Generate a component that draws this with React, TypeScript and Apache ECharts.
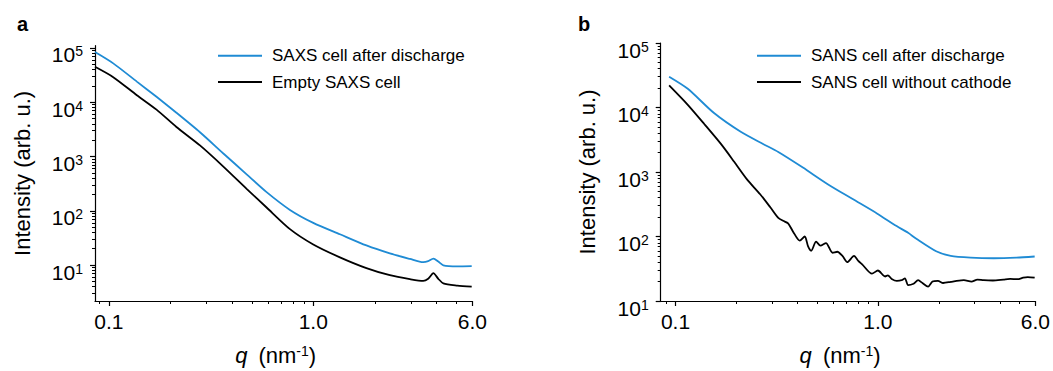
import React, { useEffect, useRef } from 'react';
import * as echarts from 'echarts';

const FONT = '"Liberation Sans", Arial, Helvetica, sans-serif';
const BLUE = '#1f8bd4';
const BLACK = '#000000';

// ---- Panel a (SAXS) ----
const saxsQ = [0.0855, 0.105, 0.137, 0.171, 0.214, 0.279, 0.362, 0.472, 0.591, 0.769, 1.0, 1.35, 1.82, 2.37, 2.97, 3.45, 3.65, 3.87, 4.09, 4.33, 5.07, 5.96];
const saxsDischarge = [84000, 52000, 24000, 12600, 6400, 2800, 1150, 470, 221, 104, 60, 37, 23, 16.4, 13, 11.3, 11.8, 13.2, 11.6, 9.9, 9.5, 9.6];
const saxsEmpty = [45000, 29000, 13500, 7300, 3500, 1600, 660, 254, 115, 46, 24, 13.9, 8.8, 6.5, 5.5, 5.1, 5.6, 7.1, 5.6, 4.6, 4.2, 4.0];

// ---- Panel b (SANS) ----
const sansDischargeQ = [0.093, 0.115, 0.155, 0.21, 0.272, 0.322, 0.426, 0.565, 0.747, 0.989, 1.237, 1.41, 1.549, 1.94, 2.29, 2.87, 3.73, 4.84, 5.95];
const sansDischarge = [30000, 19500, 8200, 4200, 2700, 2040, 1170, 648, 384, 228, 145, 114, 92, 59, 50, 47, 46, 47, 49];
const sansNoCathodeQ = [0.093, 0.115, 0.139, 0.168, 0.195, 0.226, 0.262, 0.294, 0.322, 0.34, 0.36, 0.381, 0.411, 0.435, 0.452, 0.468, 0.495, 0.52, 0.554, 0.597, 0.63, 0.668, 0.706, 0.762, 0.8, 0.836, 0.935, 1.0, 1.085, 1.12, 1.17, 1.24, 1.31, 1.36, 1.41, 1.5, 1.58, 1.66, 1.77, 1.86, 1.98, 2.1, 2.29, 2.45, 2.66, 2.9, 3.1, 3.33, 3.7, 4.17, 4.5, 4.9, 5.22, 5.5, 5.95];
const sansNoCathode = [22000, 11000, 5500, 2700, 1440, 762, 452, 284, 194, 175, 160, 119, 86, 100, 70, 60, 83, 72, 79, 56, 58, 50, 40, 50, 42, 37, 26.5, 29.7, 24, 25, 22, 20.5, 21, 22.5, 17.6, 18.5, 21, 19, 16.7, 20, 20.5, 19, 19.8, 20.5, 21, 20, 21.5, 21, 20.8, 21.5, 22, 21.8, 23, 23.5, 23];

// ---- Axes ----
const xTickValues = [0.1, 1, 6];
const yTickValues = [10, 100, 1000, 10000, 100000];
const legendSaxs = ['SAXS cell after discharge', 'Empty SAXS cell'];
const legendSans = ['SANS cell after discharge', 'SANS cell without cathode'];
const panelLetters = ['a', 'b'];

const xMin = [0.0855, 0.0845];
const xMax = [6, 6];
const yMin = [2.18, 10];
const yMax = [110000, 100000];

function minorValues(min: number, max: number): number[] {
  const out: number[] = [];
  for (let e = -3; e <= 6; e++) {
    for (let m = 2; m <= 9; m++) {
      const v = m * Math.pow(10, e);
      if (v > min * 1.0001 && v < max * 0.9999) out.push(v);
    }
  }
  return out;
}

function xAxisFor(i: number) {
  return {
    type: 'log',
    logBase: 10,
    gridIndex: i,
    position: 'bottom',
    min: xMin[i],
    max: xMax[i],
    axisLine: { show: true, lineStyle: { color: BLACK, width: 1.2 } },
    axisTick: { show: true, customValues: xTickValues, length: 5, inside: false, lineStyle: { color: BLACK, width: 1.2 } },
    axisLabel: {
      customValues: xTickValues,
      formatter: (v: number) => Number(v).toFixed(1),
      fontSize: 21,
      color: BLACK,
      fontFamily: FONT,
      margin: 10,
      hideOverlap: false,
    },
    splitLine: { show: false },
    name: '{i|q} (nm{s|-1})',
    nameLocation: 'middle',
    nameGap: 43,
    nameTextStyle: {
      fontSize: 22,
      color: BLACK,
      fontFamily: FONT,
      padding: [0, 16, 0, 0],
      rich: {
        i: { fontStyle: 'italic', fontSize: 22, color: BLACK, fontFamily: FONT, padding: [0, 5, 0, 0] },
        s: { fontSize: 14, color: BLACK, fontFamily: FONT, verticalAlign: 'top' },
      },
    },
  };
}

function xMinorAxisFor(i: number) {
  return {
    type: 'log',
    logBase: 10,
    gridIndex: i,
    position: 'bottom',
    offset: 0,
    min: xMin[i],
    max: xMax[i],
    axisLine: { show: false },
    axisTick: { show: true, customValues: minorValues(xMin[i], xMax[i]), length: 3, inside: false, lineStyle: { color: BLACK, width: 1 } },
    axisLabel: { show: false },
    splitLine: { show: false },
  };
}

function yAxisFor(i: number) {
  return {
    type: 'log',
    logBase: 10,
    gridIndex: i,
    position: 'left',
    min: yMin[i],
    max: yMax[i],
    axisLine: { show: true, lineStyle: { color: BLACK, width: 1.2 } },
    axisTick: { show: true, customValues: yTickValues, length: 5, inside: false, lineStyle: { color: BLACK, width: 1.2 } },
    axisLabel: {
      customValues: yTickValues,
      formatter: (v: number) => `{b|10}{s|${Math.round(Math.log10(v))}}`,
      margin: 12,
      padding: [14, 0, 0, 0],
      hideOverlap: false,
      rich: {
        b: { fontSize: 21, color: BLACK, fontFamily: FONT },
        s: { fontSize: 14, color: BLACK, fontFamily: FONT, verticalAlign: 'top' },
      },
    },
    splitLine: { show: false },
    name: 'Intensity (arb. u.)',
    nameLocation: 'middle',
    nameGap: 62,
    nameTextStyle: { fontSize: 22, color: BLACK, fontFamily: FONT },
  };
}

function yMinorAxisFor(i: number) {
  return {
    type: 'log',
    logBase: 10,
    gridIndex: i,
    position: 'left',
    offset: 0,
    min: yMin[i],
    max: yMax[i],
    axisLine: { show: false },
    axisTick: { show: true, customValues: minorValues(yMin[i], yMax[i]), length: 3, inside: false, lineStyle: { color: BLACK, width: 1 } },
    axisLabel: { show: false },
    splitLine: { show: false },
  };
}

function lineSeries(name: string, axis: number, q: number[], vals: number[], color: string) {
  return {
    type: 'line',
    name,
    xAxisIndex: axis,
    yAxisIndex: axis,
    data: q.map((x, k) => [x, vals[k]]),
    symbol: 'none',
    showSymbol: false,
    smooth: 0.25,
    lineStyle: { color, width: 1.8 },
    itemStyle: { color },
  };
}

function legendFor(names: string[], left: number) {
  return {
    data: names,
    left,
    top: 42.2,
    orient: 'vertical',
    icon: 'rect',
    itemWidth: 44,
    itemHeight: 2,
    itemGap: 9.3,
    selectedMode: false,
    textStyle: { fontSize: 17, color: BLACK, fontFamily: FONT, padding: [0, 0, 0, 5] },
  };
}

export default function App() {
  const ref = useRef<HTMLDivElement>(null);
  useEffect(() => {
    if (!ref.current) return;
    const chart = echarts.init(ref.current, undefined, { renderer: 'svg' });
    chart.setOption({
      animation: false,
      backgroundColor: '#ffffff',
      grid: [
        { left: 95, top: 45.7, width: 377.3, height: 263.3 },
        { left: 660.7, top: 43, width: 378.3, height: 265 },
      ],
      xAxis: [xAxisFor(0), xAxisFor(1), xMinorAxisFor(0), xMinorAxisFor(1)],
      yAxis: [yAxisFor(0), yAxisFor(1), yMinorAxisFor(0), yMinorAxisFor(1)],
      legend: [legendFor(legendSaxs, 213), legendFor(legendSans, 752)],
      graphic: [
        { type: 'text', x: 17, y: 23.5, style: { text: panelLetters[0], fontSize: 20, fontWeight: 'bold', fontFamily: FONT, fill: BLACK, verticalAlign: 'middle' } },
        { type: 'text', x: 578, y: 23.5, style: { text: panelLetters[1], fontSize: 20, fontWeight: 'bold', fontFamily: FONT, fill: BLACK, verticalAlign: 'middle' } },
      ],
      series: [
        lineSeries(legendSaxs[1], 0, saxsQ, saxsEmpty, BLACK),
        lineSeries(legendSaxs[0], 0, saxsQ, saxsDischarge, BLUE),
        lineSeries(legendSans[1], 1, sansNoCathodeQ, sansNoCathode, BLACK),
        lineSeries(legendSans[0], 1, sansDischargeQ, sansDischarge, BLUE),
      ],
    });
    return () => chart.dispose();
  }, []);
  return <div ref={ref} style={{ position: 'absolute', left: 0, top: 0, width: 1053, height: 371 }} />;
}
